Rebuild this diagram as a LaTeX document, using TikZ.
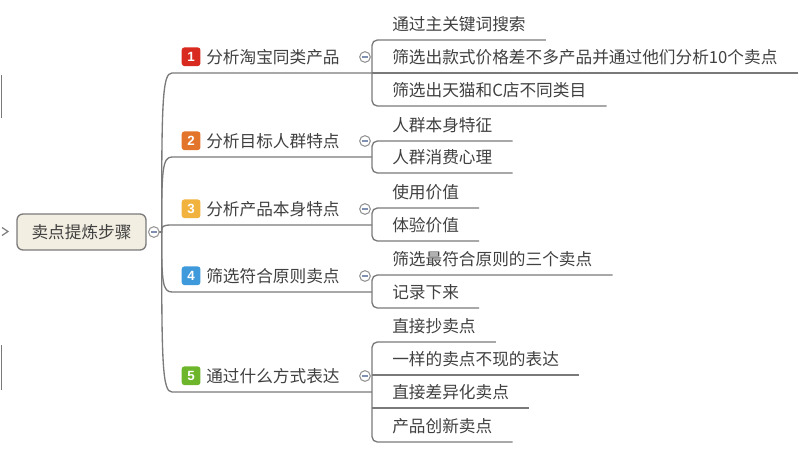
\documentclass[tikz,border=0pt]{standalone}
\usepackage{fontspec}
\setmainfont{Noto Sans CJK SC}
\newfontfamily\numfont{Liberation Sans}
\usetikzlibrary{positioning}
\definecolor{linegray}{HTML}{7A7A7A}
\definecolor{txtgray}{HTML}{404040}
\definecolor{rootfill}{HTML}{F3EEE2}
\definecolor{mkred}{HTML}{D92A1F}
\definecolor{mkorange}{HTML}{E3742C}
\definecolor{mkyellow}{HTML}{F1B23E}
\definecolor{mkblue}{HTML}{3E9ADB}
\definecolor{mkgreen}{HTML}{6DB62C}
\definecolor{foldmark}{HTML}{8090B0}

\begin{document}
\begin{tikzpicture}[x=0.75pt, y=-0.75pt, every node/.style={font=\fontsize{12.5pt}{14pt}\selectfont, text=txtgray}]
\tikzset{link/.style={draw=linegray, line width=1pt}}
\tikzset{topic/.style={anchor=south west, minimum height=24pt, inner xsep=1.5pt, inner ysep=0pt}}
\tikzset{leaf/.style={anchor=south west, minimum height=24pt, inner xsep=15pt, inner ysep=0pt}}
\tikzset{badge/.style={rounded corners=2pt, minimum size=14pt, inner sep=0pt, text=white, font=\numfont\bfseries\fontsize{10pt}{10pt}\selectfont}}
\tikzset{fold/.style={circle, draw=linegray!80, fill=white, minimum size=8pt, inner sep=0pt, line width=0.8pt,
  path picture={\draw[foldmark, line width=0.8pt] ([xshift=-2.3pt]path picture bounding box.center) -- ([xshift=2.3pt]path picture bounding box.center);}}}
\useasboundingbox (0,0) rectangle (799,465);
% cut-off bits at the left edge
\draw[link] (1.5,75) -- (1.5,118);
\draw[link] (1.5,345) -- (1.5,390);
\draw[linegray, line width=0.9pt] (2,227.5) -- (8,231.5) -- (2,235.5);
% root
\node[draw=linegray, fill=rootfill, rounded corners=4.5pt, minimum width=96.75pt, minimum height=27pt, line width=1pt] (root) at (81.5,232) {卖点提炼步骤};
\node[fold, right=1pt of root] (rdot) {};
% main topics
\node[topic] (b1) at (204,73) {分析淘宝同类产品};
\node[topic] (b2) at (204,157) {分析目标人群特点};
\node[topic] (b3) at (204,225) {分析产品本身特点};
\node[topic] (b4) at (204,292) {筛选符合原则卖点};
\node[topic] (b5) at (204,392) {通过什么方式表达};
\node[badge, fill=mkred, left=2.5pt of b1] (k1) {1};
\node[badge, fill=mkorange, left=2.5pt of b2] (k2) {2};
\node[badge, fill=mkyellow, left=2.5pt of b3] (k3) {3};
\node[badge, fill=mkblue, left=2.5pt of b4] (k4) {4};
\node[badge, fill=mkgreen, left=2.5pt of b5] (k5) {5};
% sub topics
\node[leaf] (c11) at (372,40) {通过主关键词搜索};
\node[leaf] (c12) at (372,73) {筛选出款式价格差不多产品并通过他们分析10个卖点};
\node[leaf] (c13) at (372,106) {筛选出天猫和C店不同类目};
\node[leaf] (c21) at (372,141) {人群本身特征};
\node[leaf] (c22) at (372,173) {人群消费心理};
\node[leaf] (c31) at (372,208) {使用价值};
\node[leaf] (c32) at (372,241) {体验价值};
\node[leaf] (c41) at (372,275) {筛选最符合原则的三个卖点};
\node[leaf] (c42) at (372,308) {记录下来};
\node[leaf] (c51) at (372,342) {直接抄卖点};
\node[leaf] (c52) at (372,375) {一样的卖点不现的表达};
\node[leaf] (c53) at (372,408) {直接差异化卖点};
\node[leaf] (c54) at (372,442) {产品创新卖点};
% root to topics
\foreach \i/\y in {1/73,2/157,3/225,4/292,5/392} {
  \pgfmathsetmacro\ym{\y+0.17*(232-\y)}
  \draw[link] (rdot.east) -- ++(2,0) .. controls (161.5,\ym) and (162.5,\y) .. ([xshift=-24pt]b\i.south west) -- (b\i.south -| c\i1.south west);
}
% brackets
\draw[link, rounded corners=4pt] (c11.south east) -- (c11.south west) -- (c13.south west) -- (c13.south east);
\draw[link, rounded corners=4pt] (c21.south east) -- (c21.south west) -- (c22.south west) -- (c22.south east);
\draw[link, rounded corners=4pt] (c31.south east) -- (c31.south west) -- (c32.south west) -- (c32.south east);
\draw[link, rounded corners=4pt] (c41.south east) -- (c41.south west) -- (c42.south west) -- (c42.south east);
\draw[link, rounded corners=4pt] (c51.south east) -- (c51.south west) -- (c54.south west) -- (c54.south east);
\draw[link] (c12.south west) -- (c12.south east);
\draw[link] (c52.south west) -- (c52.south east);
\draw[link] (c53.south west) -- (c53.south east);
% fold buttons
\node[fold] (f1) at (365,57) {};
\node[fold] (f2) at (365,141) {};
\node[fold] (f3) at (365,209) {};
\node[fold] (f4) at (365,276) {};
\node[fold] (f5) at (365,376) {};
\end{tikzpicture}
\end{document}
